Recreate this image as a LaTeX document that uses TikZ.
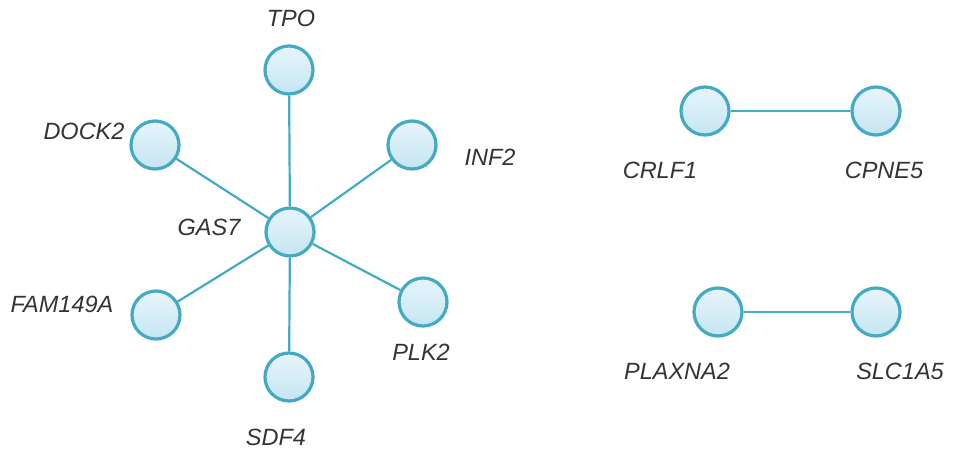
\documentclass[tikz,border=0pt]{standalone}
\usepackage{fontspec}
\setmainfont{Liberation Sans}
\begin{document}
\begin{tikzpicture}[x=1pt,y=-1pt,
  gnode/.style={circle,minimum size=48pt,inner sep=0pt,line width=3.2pt,draw=edgec,top color=topc,bottom color=botc},
  glabel/.style={font=\itshape\fontsize{23.5}{26}\selectfont,text=labc},
  gedge/.style={draw=edgec,line width=2.2pt}]
\definecolor{edgec}{HTML}{43AAC4}
\definecolor{topc}{HTML}{E8F5FB}
\definecolor{botc}{HTML}{C4E5F2}
\definecolor{labc}{HTML}{333333}
\useasboundingbox (0,0) rectangle (968,454);
\node[gnode] (gas7) at (290,232) {};
\node[gnode] (tpo) at (289,70) {};
\node[gnode] (dock2) at (155,145) {};
\node[gnode] (inf2) at (412,145) {};
\node[gnode] (fam) at (156,315) {};
\node[gnode] (plk2) at (423,302) {};
\node[gnode] (sdf4) at (289,377) {};
\node[gnode] (crlf1) at (705,111) {};
\node[gnode] (cpne5) at (876,111) {};
\node[gnode] (plaxna2) at (718,312) {};
\node[gnode] (slc1a5) at (876,312) {};
\draw[gedge] (gas7) -- (tpo);
\draw[gedge] (gas7) -- (dock2);
\draw[gedge] (gas7) -- (inf2);
\draw[gedge] (gas7) -- (fam);
\draw[gedge] (gas7) -- (plk2);
\draw[gedge] (gas7) -- (sdf4);
\draw[gedge] (crlf1) -- (cpne5);
\draw[gedge] (plaxna2) -- (slc1a5);
\node[glabel] (ltpo) at (291,18) {TPO};
\node[glabel] (ldock2) at (84,131) {DOCK2};
\node[glabel] (linf2) at (490,157) {INF2};
\node[glabel] (lgas7) at (209,227) {GAS7};
\node[glabel] (lfam) at (62,304) {FAM149A};
\node[glabel] (lplk2) at (421,352) {PLK2};
\node[glabel] (lsdf4) at (276,437) {SDF4};
\node[glabel] (lcrlf1) at (660,170) {CRLF1};
\node[glabel] (lcpne5) at (884,170) {CPNE5};
\node[glabel] (lplaxna2) at (677,371) {PLAXNA2};
\node[glabel] (lslc1a5) at (900,371) {SLC1A5};
\end{tikzpicture}
\end{document}
